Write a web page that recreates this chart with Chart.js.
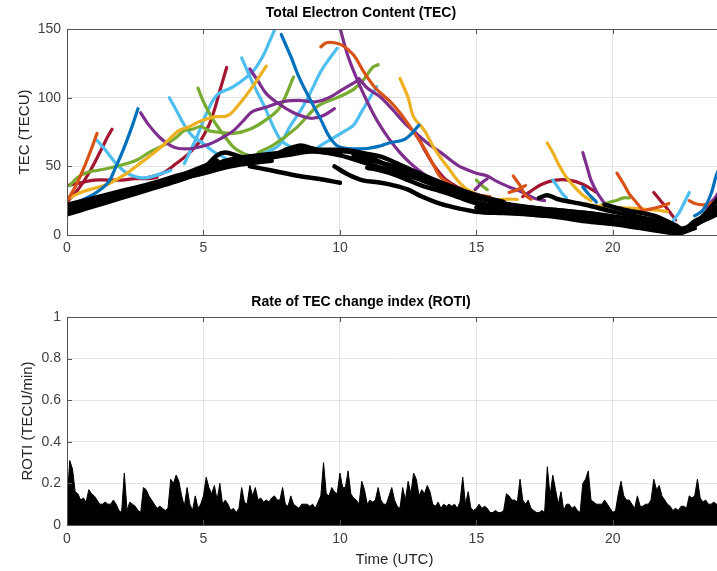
<!DOCTYPE html>
<html>
<head>
<meta charset="utf-8">
<script src="https://cdn.jsdelivr.net/npm/chart.js@4.4.0/dist/chart.umd.min.js"></script>
<style>
    html, body { margin: 0; padding: 0; background: #fff; overflow: hidden; width: 717px; height: 571px; }
    #tec-chart { position: absolute; left: 0; top: 0; }
    #roti-chart { position: absolute; left: 0; top: 285px; }
</style>
</head>
<body>
<canvas id="tec-chart" width="724" height="262"></canvas>
<canvas id="roti-chart" width="724" height="286"></canvas>
<script>
// 刻度
const hourTicks = [0, 5, 10, 15, 20];
const tecTicks = [0, 50, 100, 150];
const rotiTicks = [0, 0.2, 0.4, 0.6, 0.8, 1];

// TEC 弧段 [时间(UTC), TEC] - 按颜色分组
const blueArcs = [
    [[0, 21], [0.5, 25], [1, 30], [1.5, 38], [1.8, 50], [2.1, 64], [2.4, 80], [2.6, 92]],
    [[7.85, 146], [8.2, 130], [8.5, 115], [8.9, 99], [9.3, 84], [9.6, 72], [9.9, 65], [10.3, 63], [11.0, 63], [11.5, 65], [11.8, 67], [12.4, 70], [12.9, 80]],
    [[18.9, 35], [19.1, 30], [19.4, 24]],
    [[23.0, 14], [23.3, 18], [23.6, 30], [23.8, 44], [24.0, 52]]
];
const orangeArcs = [
    [[0, 25], [0.3, 35], [0.6, 48], [0.9, 63], [1.1, 74]],
    [[9.3, 137], [9.5, 140], [9.8, 140], [10.1, 138], [10.5, 131], [10.9, 118], [11.3, 107], [11.8, 98], [12.2, 89], [12.7, 75], [13.1, 63], [13.4, 52], [13.7, 42], [14.2, 35], [14.8, 30], [15.5, 28]],
    [[16.35, 43], [16.6, 36], [16.8, 29], [17.0, 26]],
    [[16.2, 31], [16.5, 33], [16.8, 36]],
    [[20.15, 45], [20.4, 37], [20.6, 30], [20.85, 24], [21.1, 18]],
    [[21.0, 17], [21.4, 19], [21.8, 21], [22.05, 23]],
    [[22.8, 25], [23.0, 23], [23.3, 22], [23.6, 23], [24.0, 26]]
];
const yellowArcs = [
    [[0.1, 27], [0.5, 31], [1, 34], [1.5, 37], [2.2, 45], [2.6, 51], [3.0, 57], [3.5, 65], [4.1, 76], [4.5, 79], [4.9, 83], [5.4, 86], [5.9, 87], [6.3, 95], [6.8, 108], [7.3, 123]],
    [[12.2, 114], [12.5, 100], [12.7, 86], [13.1, 76], [13.4, 65], [13.7, 56], [14.0, 48], [14.3, 40], [14.6, 34], [14.9, 31]],
    [[14.0, 30], [14.5, 27], [15.0, 26], [15.5, 25], [16.0, 26], [16.5, 26]],
    [[17.6, 67], [17.8, 60], [18.05, 50], [18.3, 42], [18.6, 35], [18.9, 29], [19.2, 25]],
    [[18.8, 23], [19.5, 21], [20.2, 20], [21.0, 19], [21.6, 18], [22.0, 17]]
];
const purpleArcs = [
    [[2.7, 89], [3.0, 80], [3.4, 71], [3.8, 65], [4.1, 63], [4.6, 63], [5.2, 66], [5.7, 71], [6.1, 76], [6.5, 84], [6.8, 90], [7.3, 93], [7.9, 97], [8.5, 98], [9.1, 97], [9.6, 100], [10.1, 106], [10.7, 113]],
    [[6.7, 121], [7.0, 112], [7.3, 103], [7.8, 95], [8.3, 89], [8.7, 86], [9.0, 85], [9.4, 87], [9.8, 92]],
    [[10.0, 151], [10.3, 130], [10.7, 110], [11.1, 93], [11.4, 82], [11.8, 70], [12.2, 60], [12.6, 52], [13.1, 44], [13.6, 38]],
    [[10.7, 114], [11.0, 107], [11.45, 101], [11.9, 92], [12.4, 81], [12.8, 74], [13.2, 67], [13.7, 60], [14.3, 51], [14.6, 48], [15.0, 45], [15.4, 43], [15.75, 39], [16.2, 35], [16.7, 31], [17.1, 27], [17.5, 25]],
    [[14.95, 33], [15.2, 38], [15.4, 41]],
    [[18.9, 60], [19.05, 50], [19.2, 40], [19.45, 30], [19.7, 23]],
    [[23.4, 20], [23.7, 26], [24.0, 35]]
];
const greenArcs = [
    [[0.1, 36], [0.4, 42], [0.8, 46], [1.1, 47], [1.6, 49], [2.2, 52], [2.6, 55], [3.0, 60], [3.4, 64], [3.7, 67], [4.0, 71], [4.3, 76], [4.6, 77], [4.9, 79], [5.2, 76], [5.5, 75], [6.1, 74], [6.7, 77], [7.3, 84], [7.8, 93], [8.3, 115]],
    [[4.8, 107], [5.0, 97], [5.35, 84], [5.7, 74], [6.1, 64], [6.5, 59], [6.9, 57]],
    [[7.0, 60], [7.6, 66], [8.4, 78], [9.2, 94], [9.9, 100], [10.5, 106], [10.9, 114], [11.2, 122], [11.4, 124]],
    [[15.0, 40], [15.2, 36], [15.4, 33]],
    [[19.6, 22], [19.9, 24], [20.1, 25], [20.4, 27], [20.6, 27]]
];
const cyanArcs = [
    [[1.1, 69], [1.4, 62], [1.8, 52], [2.2, 45], [2.6, 42], [3.0, 42], [3.5, 45], [3.8, 47]],
    [[3.75, 100], [4.0, 91], [4.3, 80], [4.6, 72], [4.9, 68], [5.35, 61], [5.8, 56]],
    [[4.3, 52], [4.75, 71], [5.1, 88], [5.5, 102], [6.1, 108], [6.8, 119], [7.2, 131], [7.4, 140], [7.6, 149]],
    [[6.4, 129], [6.8, 111], [7.2, 95], [7.8, 70], [8.2, 64], [8.6, 60]],
    [[7.0, 58], [7.5, 62], [7.8, 66], [8.2, 80], [8.6, 92], [8.9, 103], [9.3, 119], [9.6, 128], [9.9, 136]],
    [[9.2, 64], [9.7, 70], [10.2, 76], [10.5, 80], [10.8, 90], [11.1, 100], [11.35, 108]],
    [[17.8, 40], [17.95, 36], [18.15, 30], [18.3, 27]],
    [[22.2, 10], [22.45, 17], [22.8, 31]]
];
const redArcs = [
    [[0, 24], [0.4, 33], [0.8, 45], [1.2, 60], [1.5, 72], [1.65, 77]],
    [[0, 36], [0.5, 38], [1, 40], [1.5, 40], [2, 40], [2.5, 41], [3.0, 41], [3.3, 42]],
    [[3.0, 42], [3.5, 45], [4.0, 52], [4.5, 60], [4.9, 69], [5.2, 80], [5.4, 91], [5.6, 105], [5.85, 122]],
    [[12.8, 74], [13.1, 62], [13.4, 52], [13.7, 44], [13.9, 40], [14.3, 35], [14.8, 31], [15.3, 28]],
    [[16.7, 28], [17.0, 32], [17.4, 37], [17.9, 40], [18.4, 40], [18.9, 37], [19.4, 31]],
    [[21.5, 31], [21.75, 25], [22.0, 19], [22.3, 11]]
];
const blackArcs = [
    [[0, 15], [0.5, 18], [1, 21], [2, 27], [3, 33], [4, 39], [5, 46], [6, 51], [7, 55], [8, 58], [9, 61], [10, 60]],
    [[0, 19], [1, 24], [2, 30], [3, 35], [4, 41], [5, 47], [5.5, 52], [6, 55], [7, 58], [8, 60]],
    [[0, 22], [1, 27], [2, 32], [3, 37], [4, 43], [5, 49], [5.5, 58], [5.8, 60], [6.2, 58], [6.5, 56]],
    [[0, 17], [1, 22], [2, 28], [3, 34], [4, 40], [5, 45], [6, 50], [7, 53], [7.5, 54]],
    [[0.2, 20], [1, 25], [2, 31], [3, 36], [4, 42], [4.5, 46], [5, 50], [5.5, 54]],
    [[3.5, 38], [4.5, 44], [5.5, 49], [6.5, 54], [7.5, 58], [8.5, 65], [9, 63], [9.5, 60], [10, 61], [10.5, 60], [11, 57], [11.5, 53], [12, 48], [12.5, 44]],
    [[6.7, 50], [7.5, 47], [8.5, 43], [9.2, 41], [10, 38]],
    [[5, 47], [6, 52], [7, 57], [8, 60], [9, 61], [10, 58], [11, 52], [12, 46], [13, 40], [14, 33]],
    [[8, 62], [9, 62], [10, 62], [10.5, 61], [11, 59], [11.5, 57], [12, 53], [13, 44], [14, 36], [15, 29], [16, 24]],
    [[9.8, 50], [10.3, 44], [10.8, 40], [11.5, 38], [12, 36], [12.5, 33], [13, 28], [13.5, 24], [14, 21], [15, 17], [16, 16], [17, 15], [17.5, 14]],
    [[10.5, 58], [11, 55], [12, 50], [13, 42], [14, 34], [15, 27], [16, 23], [17, 20], [18, 17], [19, 14], [20, 11]],
    [[11, 49], [11.5, 47], [12, 44], [12.5, 40], [13, 36], [13.5, 33], [14, 30], [15, 23], [16, 19], [17, 17], [18, 15], [19, 12]],
    [[13, 40], [14, 32], [15, 24], [16, 20], [17, 18], [18, 16], [19, 13], [20, 10], [21, 7], [22, 4]],
    [[15, 20], [16, 17], [17, 15], [18, 13], [19, 10], [20, 8], [21, 5], [22, 2], [22.4, 1], [23, 5]],
    [[15.5, 24], [16.5, 21], [17.5, 19], [18.5, 17], [19.5, 15], [20.5, 12], [21, 10]],
    [[16, 21], [17, 19], [18, 18], [19, 16], [20, 13], [21, 10], [22, 6], [22.4, 3], [23, 7], [24, 20]],
    [[17.3, 27], [17.6, 29], [18, 26], [19, 22], [20, 17], [21, 13], [22, 8], [22.4, 4], [23, 8], [23.5, 12], [24, 17]],
    [[19.7, 22], [20.5, 18], [21.5, 14], [22.3, 7], [22.6, 4], [23, 10], [23.5, 15], [24, 24]],
    [[20.5, 14], [21.5, 10], [22.2, 4], [22.5, 2], [23, 8], [23.5, 18], [24, 30]]
];

// ROTI 每 0.1 小时一个值 (0.0 - 24.0)
const rotiValues = [
    0.10, 0.31, 0.27, 0.16, 0.15, 0.12, 0.13, 0.11, 0.17, 0.15,
    0.14, 0.12, 0.10, 0.10, 0.11, 0.10, 0.10, 0.12, 0.10, 0.07,
    0.06, 0.25, 0.07, 0.11, 0.10, 0.09, 0.07, 0.06, 0.18, 0.17,
    0.14, 0.12, 0.10, 0.08, 0.09, 0.08, 0.07, 0.08, 0.22, 0.20,
    0.24, 0.21, 0.14, 0.09, 0.18, 0.10, 0.07, 0.14, 0.08, 0.10,
    0.14, 0.23, 0.18, 0.15, 0.19, 0.12, 0.20, 0.10, 0.12, 0.10,
    0.07, 0.08, 0.06, 0.08, 0.18, 0.11, 0.10, 0.19, 0.14, 0.18,
    0.12, 0.13, 0.11, 0.12, 0.11, 0.13, 0.14, 0.12, 0.12, 0.18,
    0.10, 0.09, 0.14, 0.10, 0.09, 0.08, 0.10, 0.10, 0.10, 0.09,
    0.10, 0.08, 0.11, 0.14, 0.30, 0.15, 0.14, 0.18, 0.16, 0.15,
    0.25, 0.18, 0.18, 0.26, 0.15, 0.13, 0.12, 0.10, 0.21, 0.17,
    0.10, 0.12, 0.11, 0.12, 0.18, 0.12, 0.10, 0.10, 0.14, 0.18,
    0.12, 0.09, 0.08, 0.18, 0.12, 0.21, 0.15, 0.25, 0.22, 0.14,
    0.17, 0.15, 0.19, 0.16, 0.10, 0.09, 0.11, 0.08, 0.10, 0.09,
    0.10, 0.09, 0.10, 0.08, 0.11, 0.23, 0.10, 0.16, 0.08, 0.07,
    0.08, 0.10, 0.08, 0.09, 0.08, 0.06, 0.06, 0.07, 0.06, 0.06,
    0.07, 0.15, 0.14, 0.12, 0.12, 0.11, 0.22, 0.12, 0.10, 0.12,
    0.08, 0.07, 0.06, 0.06, 0.07, 0.06, 0.28, 0.14, 0.24, 0.17,
    0.10, 0.16, 0.07, 0.10, 0.10, 0.08, 0.09, 0.07, 0.06, 0.20,
    0.22, 0.26, 0.12, 0.11, 0.10, 0.10, 0.10, 0.12, 0.10, 0.08,
    0.06, 0.07, 0.15, 0.21, 0.14, 0.12, 0.12, 0.10, 0.08, 0.14,
    0.09, 0.09, 0.10, 0.10, 0.12, 0.22, 0.17, 0.19, 0.14, 0.12,
    0.10, 0.09, 0.07, 0.08, 0.07, 0.09, 0.09, 0.08, 0.14, 0.13,
    0.14, 0.22, 0.13, 0.11, 0.12, 0.10, 0.10, 0.11, 0.10, 0.10,
    0.10
];
const rotiStep = 0.1; // 采样间隔 (小时)

// 样式 (MATLAB 默认配色)
const fontFamily = "'Liberation Sans', Arial, Helvetica, sans-serif";
const tickColor = '#404040';
const gridColor = '#e3e3e3';
const frameColor = '#555555';

// 坐标框和向内刻度
const frameBox = {
    id: 'frameBox',
    afterDatasetsDraw(chart) {
        const { ctx, chartArea: a, scales } = chart;
        ctx.save();
        ctx.strokeStyle = frameColor;
        ctx.lineWidth = 1;
        ctx.strokeRect(Math.round(a.left) + 0.5, Math.round(a.top) + 0.5, a.right - a.left, Math.round(a.bottom - a.top));
        ctx.beginPath();
        scales.x.ticks.forEach(t => {
            const x = Math.round(scales.x.getPixelForValue(t.value)) + 0.5;
            ctx.moveTo(x, a.bottom); ctx.lineTo(x, a.bottom - 5);
            ctx.moveTo(x, a.top); ctx.lineTo(x, a.top + 5);
        });
        scales.y.ticks.forEach(t => {
            const y = Math.round(scales.y.getPixelForValue(t.value)) + 0.5;
            ctx.moveTo(a.left, y); ctx.lineTo(a.left + 5, y);
        });
        ctx.stroke();
        ctx.restore();
    }
};

function xScale(height, withTitle) {
    return {
        type: 'linear',
        min: 0,
        max: 24,
        afterBuildTicks: s => { s.ticks = hourTicks.map(v => ({ value: v })); },
        afterFit: s => { s.height = height; },
        grid: { color: gridColor, drawTicks: false },
        border: { display: false },
        ticks: { padding: withTitle ? 6 : 5, color: tickColor, font: { family: fontFamily, size: 14 } },
        title: {
            display: withTitle,
            text: 'Time (UTC)',
            color: '#262626',
            font: { family: fontFamily, size: 15 },
            padding: { top: 0, bottom: 2 }
        }
    };
}

function yScale(max, ticks, label, titlePad) {
    return {
        type: 'linear',
        min: 0,
        max: max,
        afterBuildTicks: s => { s.ticks = ticks.map(v => ({ value: v })); },
        afterFit: s => { s.width = 67; },
        grid: { color: gridColor, drawTicks: false },
        border: { display: false },
        ticks: { padding: 6, color: tickColor, font: { family: fontFamily, size: 14 }, callback: v => String(v) },
        title: {
            display: true,
            text: label,
            color: '#262626',
            font: { family: fontFamily, size: 15 },
            padding: { top: titlePad, bottom: 0 }
        }
    };
}

function arcSets(arcs, color, width, order) {
    return arcs.map(arc => ({
        data: arc.map(p => ({ x: p[0], y: p[1] })),
        borderColor: color,
        borderWidth: width,
        borderCapStyle: 'round',
        borderJoinStyle: 'round',
        pointRadius: 0,
        tension: 0.35,
        fill: false,
        order: order
    }));
}

const tecDatasets = [
    ...arcSets(blackArcs, '#000000', 4.5, 0),
    ...arcSets(blueArcs, '#0072BD', 3.2, 1),
    ...arcSets(orangeArcs, '#D95319', 3.2, 1),
    ...arcSets(yellowArcs, '#EDB120', 3.2, 1),
    ...arcSets(purpleArcs, '#7E2F8E', 3.2, 1),
    ...arcSets(greenArcs, '#77AC30', 3.2, 1),
    ...arcSets(cyanArcs, '#4DBEEE', 3.2, 1),
    ...arcSets(redArcs, '#A2142F', 3.2, 1)
];

window.tecChart = new Chart(document.getElementById('tec-chart'), {
    type: 'line',
    data: { datasets: tecDatasets },
    options: {
        responsive: false,
        animation: false,
        layout: { padding: { left: 0, right: 2, top: 0, bottom: 0 } },
        plugins: {
            legend: { display: false },
            tooltip: { enabled: false },
            title: {
                display: true,
                text: 'Total Electron Content (TEC)',
                color: '#000',
                font: { family: fontFamily, size: 14, weight: 'bold' },
                padding: { top: 5, bottom: 7.2 }
            }
        },
        scales: {
            x: xScale(27, false),
            y: yScale(150, tecTicks, 'TEC (TECU)', 16)
        }
    },
    plugins: [frameBox]
});

window.rotiChart = new Chart(document.getElementById('roti-chart'), {
    type: 'line',
    data: {
        datasets: [{
            data: rotiValues.map((v, i) => ({ x: i * rotiStep, y: v })),
            borderColor: '#000',
            backgroundColor: '#000',
            borderWidth: 1,
            pointRadius: 0,
            tension: 0,
            fill: 'origin'
        }]
    },
    options: {
        responsive: false,
        animation: false,
        layout: { padding: { left: 0, right: 2, top: 0, bottom: 0 } },
        plugins: {
            legend: { display: false },
            tooltip: { enabled: false },
            title: {
                display: true,
                text: 'Rate of TEC change index (ROTI)',
                color: '#000',
                font: { family: fontFamily, size: 14, weight: 'bold' },
                padding: { top: 9, bottom: 6.2 }
            }
        },
        scales: {
            x: xScale(46, true),
            y: yScale(1, rotiTicks, 'ROTI (TECU/min)', 19)
        }
    },
    plugins: [frameBox]
});
</script>
</body>
</html>
